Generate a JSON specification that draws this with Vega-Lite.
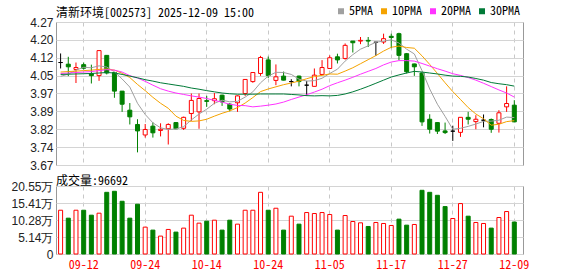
{
  "$schema": "https://vega.github.io/schema/vega-lite/v6.json",
  "background": "white",
  "padding": {"left": 10, "top": 4, "right": 5, "bottom": 2},
  "config": {
    "view": {"stroke": "#999999", "strokeWidth": 1},
    "axis": {"ticks": false, "domain": false, "labelFont": "Liberation Sans", "labelFontSize": 12, "labelColor": "#222222", "gridColor": "#d4d4d4", "gridWidth": 1, "labelPadding": 3, "labelOverlap": false},
    "legend": {"labelFont": "Noto Sans Mono CJK SC, Liberation Mono", "labelFontSize": 12, "labelColor": "#000000"}
  },
  "datasets": {
    "k": [
      {"d":"09-09","o":4.100,"h":4.138,"l":4.075,"c":4.100,"v":132300,"k":"flat","vk":"up","5PMA":4.042,"10PMA":4.060,"20PMA":4.054,"30PMA":4.050},
      {"d":"09-10","o":4.093,"h":4.124,"l":4.043,"c":4.082,"v":108300,"k":"down","vk":"down","5PMA":4.051,"10PMA":4.062,"20PMA":4.056,"30PMA":4.051},
      {"d":"09-11","o":4.071,"h":4.100,"l":4.014,"c":4.079,"v":132300,"k":"up","vk":"up","5PMA":4.068,"10PMA":4.064,"20PMA":4.058,"30PMA":4.052},
      {"d":"09-12","o":4.091,"h":4.100,"l":4.070,"c":4.076,"v":132300,"k":"down","vk":"down","5PMA":4.080,"10PMA":4.066,"20PMA":4.060,"30PMA":4.053},
      {"d":"09-15","o":4.053,"h":4.091,"l":4.012,"c":4.045,"v":117300,"k":"down","vk":"down","5PMA":4.078,"10PMA":4.068,"20PMA":4.062,"30PMA":4.054},
      {"d":"09-16","o":4.045,"h":4.151,"l":4.023,"c":4.150,"v":123300,"k":"up","vk":"up","5PMA":4.086,"10PMA":4.071,"20PMA":4.066,"30PMA":4.056},
      {"d":"09-17","o":4.130,"h":4.130,"l":4.050,"c":4.056,"v":186400,"k":"down","vk":"down","5PMA":4.081,"10PMA":4.073,"20PMA":4.070,"30PMA":4.058},
      {"d":"09-18","o":4.058,"h":4.060,"l":3.952,"c":3.980,"v":189500,"k":"down","vk":"down","5PMA":4.061,"10PMA":4.068,"20PMA":4.068,"30PMA":4.056},
      {"d":"09-19","o":3.980,"h":3.980,"l":3.893,"c":3.925,"v":159400,"k":"down","vk":"down","5PMA":4.031,"10PMA":4.055,"20PMA":4.060,"30PMA":4.050},
      {"d":"09-22","o":3.900,"h":3.930,"l":3.840,"c":3.872,"v":108300,"k":"down","vk":"down","5PMA":3.997,"10PMA":4.037,"20PMA":4.045,"30PMA":4.043},
      {"d":"09-23","o":3.840,"h":3.862,"l":3.723,"c":3.813,"v":150400,"k":"down","vk":"down","5PMA":3.929,"10PMA":4.008,"20PMA":4.035,"30PMA":4.036},
      {"d":"09-24","o":3.796,"h":3.842,"l":3.785,"c":3.819,"v":81200,"k":"up","vk":"up","5PMA":3.882,"10PMA":3.982,"20PMA":4.021,"30PMA":4.028},
      {"d":"09-25","o":3.833,"h":3.849,"l":3.785,"c":3.805,"v":72200,"k":"down","vk":"down","5PMA":3.847,"10PMA":3.954,"20PMA":4.005,"30PMA":4.022},
      {"d":"09-26","o":3.815,"h":3.845,"l":3.790,"c":3.820,"v":54100,"k":"up","vk":"up","5PMA":3.826,"10PMA":3.929,"20PMA":3.990,"30PMA":4.015},
      {"d":"09-29","o":3.822,"h":3.845,"l":3.756,"c":3.840,"v":74200,"k":"up","vk":"up","5PMA":3.819,"10PMA":3.908,"20PMA":3.980,"30PMA":4.010},
      {"d":"09-30","o":3.848,"h":3.850,"l":3.820,"c":3.822,"v":66200,"k":"down","vk":"down","5PMA":3.821,"10PMA":3.875,"20PMA":3.972,"30PMA":4.005},
      {"d":"10-09","o":3.824,"h":3.873,"l":3.817,"c":3.870,"v":78200,"k":"up","vk":"up","5PMA":3.831,"10PMA":3.857,"20PMA":3.966,"30PMA":4.000},
      {"d":"10-10","o":3.886,"h":3.970,"l":3.855,"c":3.941,"v":117300,"k":"up","vk":"up","5PMA":3.859,"10PMA":3.853,"20PMA":3.960,"30PMA":3.993},
      {"d":"10-13","o":3.893,"h":3.970,"l":3.822,"c":3.949,"v":93200,"k":"up","vk":"up","5PMA":3.884,"10PMA":3.855,"20PMA":3.955,"30PMA":3.988},
      {"d":"10-14","o":3.940,"h":3.960,"l":3.914,"c":3.937,"v":99200,"k":"down","vk":"down","5PMA":3.904,"10PMA":3.862,"20PMA":3.949,"30PMA":3.982},
      {"d":"10-15","o":3.940,"h":3.972,"l":3.925,"c":3.948,"v":102200,"k":"up","vk":"up","5PMA":3.929,"10PMA":3.875,"20PMA":3.941,"30PMA":3.977},
      {"d":"10-16","o":3.963,"h":3.965,"l":3.918,"c":3.935,"v":72200,"k":"down","vk":"down","5PMA":3.942,"10PMA":3.887,"20PMA":3.934,"30PMA":3.972},
      {"d":"10-17","o":3.925,"h":3.930,"l":3.895,"c":3.905,"v":102200,"k":"down","vk":"down","5PMA":3.935,"10PMA":3.897,"20PMA":3.925,"30PMA":3.969},
      {"d":"10-20","o":3.931,"h":3.962,"l":3.893,"c":3.960,"v":90200,"k":"up","vk":"up","5PMA":3.937,"10PMA":3.911,"20PMA":3.920,"30PMA":3.967},
      {"d":"10-21","o":3.970,"h":4.030,"l":3.960,"c":4.029,"v":132300,"k":"up","vk":"up","5PMA":3.955,"10PMA":3.930,"20PMA":3.919,"30PMA":3.967},
      {"d":"10-22","o":4.020,"h":4.060,"l":4.015,"c":4.058,"v":132300,"k":"up","vk":"up","5PMA":3.977,"10PMA":3.953,"20PMA":3.914,"30PMA":3.967},
      {"d":"10-23","o":4.054,"h":4.128,"l":4.044,"c":4.121,"v":186400,"k":"up","vk":"up","5PMA":4.015,"10PMA":3.978,"20PMA":3.917,"30PMA":3.968},
      {"d":"10-24","o":4.111,"h":4.125,"l":4.035,"c":4.045,"v":132300,"k":"down","vk":"down","5PMA":4.043,"10PMA":3.989,"20PMA":3.921,"30PMA":3.968},
      {"d":"10-27","o":4.025,"h":4.092,"l":4.005,"c":4.040,"v":138300,"k":"up","vk":"up","5PMA":4.059,"10PMA":3.998,"20PMA":3.926,"30PMA":3.968},
      {"d":"10-28","o":4.043,"h":4.062,"l":4.025,"c":4.026,"v":72200,"k":"down","vk":"down","5PMA":4.058,"10PMA":4.007,"20PMA":3.934,"30PMA":3.968},
      {"d":"10-29","o":4.020,"h":4.030,"l":4.000,"c":4.020,"v":114300,"k":"flat","vk":"up","5PMA":4.050,"10PMA":4.014,"20PMA":3.945,"30PMA":3.966},
      {"d":"10-30","o":4.043,"h":4.045,"l":4.000,"c":4.020,"v":90200,"k":"down","vk":"down","5PMA":4.030,"10PMA":4.022,"20PMA":3.955,"30PMA":3.964},
      {"d":"10-31","o":4.005,"h":4.023,"l":3.960,"c":4.005,"v":125300,"k":"flat","vk":"up","5PMA":4.022,"10PMA":4.032,"20PMA":3.965,"30PMA":3.961},
      {"d":"11-03","o":4.000,"h":4.075,"l":4.000,"c":4.047,"v":122300,"k":"up","vk":"up","5PMA":4.024,"10PMA":4.041,"20PMA":3.976,"30PMA":3.960},
      {"d":"11-04","o":4.050,"h":4.110,"l":4.047,"c":4.079,"v":125300,"k":"up","vk":"up","5PMA":4.034,"10PMA":4.046,"20PMA":3.988,"30PMA":3.961},
      {"d":"11-05","o":4.075,"h":4.130,"l":4.073,"c":4.120,"v":119300,"k":"up","vk":"up","5PMA":4.054,"10PMA":4.052,"20PMA":4.003,"30PMA":3.960},
      {"d":"11-06","o":4.124,"h":4.137,"l":4.096,"c":4.111,"v":72200,"k":"down","vk":"down","5PMA":4.072,"10PMA":4.051,"20PMA":4.015,"30PMA":3.962},
      {"d":"11-07","o":4.117,"h":4.180,"l":4.112,"c":4.172,"v":116300,"k":"up","vk":"up","5PMA":4.106,"10PMA":4.064,"20PMA":4.026,"30PMA":3.968},
      {"d":"11-10","o":4.190,"h":4.190,"l":4.142,"c":4.183,"v":98200,"k":"down","vk":"up","5PMA":4.133,"10PMA":4.078,"20PMA":4.038,"30PMA":3.977},
      {"d":"11-11","o":4.190,"h":4.207,"l":4.177,"c":4.193,"v":94200,"k":"up","vk":"up","5PMA":4.156,"10PMA":4.095,"20PMA":4.051,"30PMA":3.988},
      {"d":"11-12","o":4.193,"h":4.207,"l":4.165,"c":4.190,"v":83200,"k":"down","vk":"down","5PMA":4.170,"10PMA":4.112,"20PMA":4.063,"30PMA":4.000},
      {"d":"11-13","o":4.185,"h":4.186,"l":4.128,"c":4.185,"v":95200,"k":"flat","vk":"up","5PMA":4.185,"10PMA":4.129,"20PMA":4.075,"30PMA":4.013},
      {"d":"11-14","o":4.186,"h":4.221,"l":4.178,"c":4.200,"v":92200,"k":"up","vk":"up","5PMA":4.190,"10PMA":4.148,"20PMA":4.090,"30PMA":4.026},
      {"d":"11-17","o":4.210,"h":4.221,"l":4.160,"c":4.205,"v":86200,"k":"down","vk":"up","5PMA":4.195,"10PMA":4.164,"20PMA":4.102,"30PMA":4.039},
      {"d":"11-18","o":4.221,"h":4.225,"l":4.110,"c":4.130,"v":105300,"k":"down","vk":"down","5PMA":4.182,"10PMA":4.169,"20PMA":4.108,"30PMA":4.048},
      {"d":"11-19","o":4.137,"h":4.140,"l":4.054,"c":4.061,"v":87200,"k":"down","vk":"down","5PMA":4.156,"10PMA":4.163,"20PMA":4.108,"30PMA":4.056},
      {"d":"11-20","o":4.094,"h":4.095,"l":4.044,"c":4.082,"v":89200,"k":"down","vk":"up","5PMA":4.136,"10PMA":4.160,"20PMA":4.106,"30PMA":4.063},
      {"d":"11-21","o":4.056,"h":4.060,"l":3.834,"c":3.851,"v":192500,"k":"down","vk":"down","5PMA":4.066,"10PMA":4.128,"20PMA":4.096,"30PMA":4.060},
      {"d":"11-24","o":3.862,"h":3.883,"l":3.802,"c":3.820,"v":186400,"k":"down","vk":"down","5PMA":3.989,"10PMA":4.092,"20PMA":4.085,"30PMA":4.056},
      {"d":"11-25","o":3.848,"h":3.850,"l":3.800,"c":3.812,"v":177400,"k":"down","vk":"down","5PMA":3.925,"10PMA":4.054,"20PMA":4.074,"30PMA":4.052},
      {"d":"11-26","o":3.813,"h":3.848,"l":3.800,"c":3.806,"v":143300,"k":"down","vk":"down","5PMA":3.874,"10PMA":4.015,"20PMA":4.064,"30PMA":4.047},
      {"d":"11-27","o":3.812,"h":3.835,"l":3.771,"c":3.812,"v":107300,"k":"flat","vk":"up","5PMA":3.820,"10PMA":3.978,"20PMA":4.053,"30PMA":4.043},
      {"d":"11-28","o":3.807,"h":3.870,"l":3.788,"c":3.870,"v":152400,"k":"up","vk":"up","5PMA":3.824,"10PMA":3.945,"20PMA":4.046,"30PMA":4.042},
      {"d":"12-01","o":3.870,"h":3.893,"l":3.840,"c":3.862,"v":114300,"k":"down","vk":"down","5PMA":3.832,"10PMA":3.911,"20PMA":4.037,"30PMA":4.039},
      {"d":"12-02","o":3.852,"h":3.879,"l":3.820,"c":3.862,"v":95200,"k":"up","vk":"up","5PMA":3.842,"10PMA":3.884,"20PMA":4.026,"30PMA":4.033},
      {"d":"12-03","o":3.858,"h":3.882,"l":3.828,"c":3.858,"v":92200,"k":"flat","vk":"up","5PMA":3.853,"10PMA":3.864,"20PMA":4.013,"30PMA":4.026},
      {"d":"12-04","o":3.861,"h":3.865,"l":3.805,"c":3.820,"v":78200,"k":"down","vk":"down","5PMA":3.854,"10PMA":3.837,"20PMA":3.999,"30PMA":4.016},
      {"d":"12-05","o":3.845,"h":3.900,"l":3.806,"c":3.889,"v":110300,"k":"up","vk":"up","5PMA":3.858,"10PMA":3.841,"20PMA":3.985,"30PMA":4.011},
      {"d":"12-08","o":3.914,"h":4.000,"l":3.893,"c":3.928,"v":128300,"k":"up","vk":"up","5PMA":3.871,"10PMA":3.852,"20PMA":3.972,"30PMA":4.007},
      {"d":"12-09","o":3.921,"h":3.942,"l":3.850,"c":3.851,"v":96692,"k":"down","vk":"down","5PMA":3.869,"10PMA":3.856,"20PMA":3.955,"30PMA":4.001}
    ]
  },
  "spacing": 21,
  "bounds": "flush",
  "resolve": {"scale": {"color": "independent"}, "legend": {"color": "independent"}},
  "vconcat": [
    {
      "width": 467,
      "height": 143,
      "title": {"text": "清新环境[002573] 2025-12-09 15:00", "anchor": "start", "frame": "group", "font": "Noto Sans Mono CJK SC, Liberation Mono", "fontSize": 12, "fontWeight": "normal", "color": "#000000", "offset": -15},
      "data": {"name": "k"},
      "encoding": {
        "x": {"field": "d", "type": "ordinal", "sort": null,
          "scale": {"type": "band", "paddingInner": 0.48, "paddingOuter": 0.605, "align": 0.28, "round": false},
          "axis": {"title": null, "labels": false, "grid": true, "gridDash": [4, 4], "gridColor": "#c8c8c8", "bandPosition": 0.5,
            "values": ["09-12", "09-24", "10-14", "10-24", "11-05", "11-17", "11-27", "12-09"]}}
      },
      "layer": [
        {
          "mark": {"type": "rule", "strokeWidth": 1},
          "encoding": {
            "y": {"field": "l", "type": "quantitative",
              "scale": {"domain": [3.67, 4.27], "nice": false, "zero": false},
              "axis": {"title": null, "grid": true, "labelOverlap": false, "values": [3.67, 3.745, 3.82, 3.895, 3.97, 4.045, 4.12, 4.195, 4.27],
                "labelExpr": "datum.value < 3.7 ? '3.67' : datum.value < 3.78 ? '3.74' : datum.value < 3.85 ? '3.82' : datum.value < 3.93 ? '3.89' : datum.value < 4.0 ? '3.97' : datum.value < 4.08 ? '4.05' : datum.value < 4.15 ? '4.12' : datum.value < 4.23 ? '4.20' : '4.27'"}},
            "y2": {"field": "h"},
            "stroke": {"field": "k", "type": "nominal", "scale": {"domain": ["up", "down", "flat"], "range": ["#ff0000", "#008000", "#000000"]}, "legend": null}
          }
        },
        {
          "mark": {"type": "bar", "strokeWidth": 1},
          "encoding": {
            "y": {"field": "o", "type": "quantitative", "axis": {"title": null, "labelOverlap": false, "values": [3.67, 3.745, 3.82, 3.895, 3.97, 4.045, 4.12, 4.195, 4.27]}},
            "y2": {"field": "c"},
            "fill": {"field": "k", "type": "nominal", "scale": {"domain": ["up", "down", "flat"], "range": ["#ffffff", "#008000", "#000000"]}, "legend": null},
            "stroke": {"field": "k", "type": "nominal", "legend": null}
          }
        },
        {
          "transform": [{"fold": ["5PMA", "10PMA", "20PMA", "30PMA"], "as": ["ma", "val"]}],
          "mark": {"type": "line", "strokeWidth": 1},
          "encoding": {
            "y": {"field": "val", "type": "quantitative", "axis": {"title": null, "labelOverlap": false, "values": [3.67, 3.745, 3.82, 3.895, 3.97, 4.045, 4.12, 4.195, 4.27]}},
            "color": {"field": "ma", "type": "nominal",
              "scale": {"domain": ["5PMA", "10PMA", "20PMA", "30PMA"], "range": ["#a0a0a0", "#f5a300", "#ff33ff", "#007a37"]},
              "legend": {"orient": "none", "legendX": 279, "legendY": -17, "direction": "horizontal", "title": null,
                "symbolType": "square", "symbolSize": 9, "symbolStrokeWidth": 3, "columnPadding": 2, "labelOffset": 2}}
          }
        }
      ]
    },
    {
      "width": 467,
      "height": 68,
      "title": {"text": "成交量:96692", "anchor": "start", "frame": "group", "font": "Noto Sans Mono CJK SC, Liberation Mono", "fontSize": 12, "fontWeight": "normal", "color": "#000000", "offset": -8},
      "data": {"name": "k"},
      "mark": {"type": "bar", "strokeWidth": 1},
      "encoding": {
        "x": {"field": "d", "type": "ordinal", "sort": null,
          "scale": {"type": "band", "paddingInner": 0.48, "paddingOuter": 0.605, "align": 0.28, "round": false},
          "axis": {"title": null, "grid": true, "gridDash": [4, 4], "gridColor": "#c8c8c8", "bandPosition": 0.5, "labelAngle": 0,
            "labelFont": "Noto Sans Mono CJK SC, Liberation Mono", "labelFontSize": 12, "labelColor": "#ff0000", "labelPadding": 5,
            "values": ["09-12", "09-24", "10-14", "10-24", "11-05", "11-17", "11-27", "12-09"]}},
        "y": {"field": "v", "type": "quantitative",
          "scale": {"domain": [0, 205500], "nice": false},
          "axis": {"title": null, "grid": true, "labelOverlap": false, "values": [0, 51375, 102750, 154125, 205500],
            "labelExpr": "datum.value < 1 ? '0' : datum.value < 60000 ? '5.14万' : datum.value < 120000 ? '10.28万' : datum.value < 180000 ? '15.41万' : '20.55万'"}},
        "fill": {"field": "vk", "type": "nominal", "scale": {"domain": ["up", "down", "flat"], "range": ["#ffffff", "#008000", "#000000"]}, "legend": null},
        "stroke": {"field": "vk", "type": "nominal", "scale": {"domain": ["up", "down", "flat"], "range": ["#ff0000", "#008000", "#000000"]}, "legend": null}
      }
    }
  ]
}
